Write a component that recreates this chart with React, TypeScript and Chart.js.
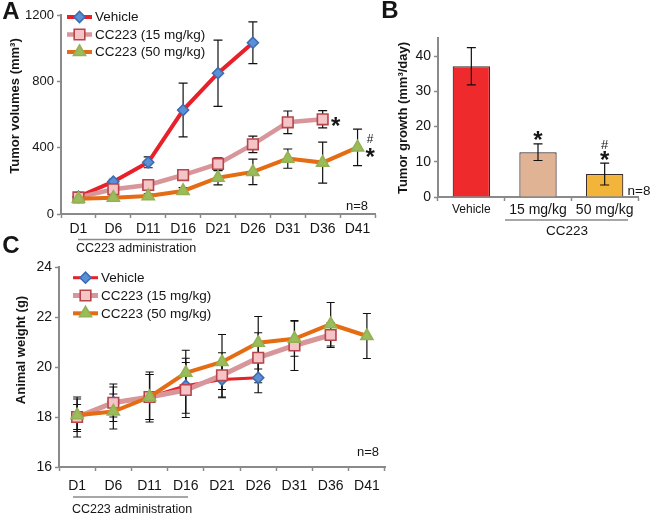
import React, { useEffect, useRef } from 'react';
import { Chart, registerables } from 'chart.js';
import { drawPoint } from 'chart.js/helpers';

Chart.register(...registerables);

const FONT = '"Liberation Sans", Arial, Helvetica, sans-serif';
const AXIS = '#8a8a8a';
const INK = '#151515';

// ---------- data ----------
const days = ['D1', 'D6', 'D11', 'D16', 'D21', 'D26', 'D31', 'D36', 'D41'];
const seriesNames = ['Vehicle', 'CC223 (15 mg/kg)', 'CC223 (50 mg/kg)'];

// Panel A: tumor volumes (mm3)
const volVehicle = [104, 195, 312, 627, 849, 1033, null, null, null];
const volVehicleErr = [10, 14, 33, 162, 200, 126, null, null, null];
const vol15 = [100, 149, 175, 235, 302, 420, 553, 571, null];
const vol15Err = [10, 14, 18, 20, 36, 50, 68, 52, null];
const vol50 = [92, 98, 108, 139, 219, 254, 334, 310, 402];
const vol50Err = [8, 10, 14, 20, 43, 77, 58, 124, 110];
const volTicks = [0, 400, 800, 1200];

// Panel B: tumor growth (mm3/day)
const growthLabels = ['Vehicle', '15 mg/kg', '50 mg/kg'];
const growth = [37.1, 12.7, 6.5];
const growthErr = [5.3, 2.35, 3.1];
const growthColors = ['#ee2a2d', '#dfb393', '#f3b43a'];

// Panel C: animal weight (g)
const wVehicle = [18.0, 18.6, 18.8, 19.25, 19.5, 19.57, null, null, null];
const wVehicleErr = [0.5, 0.6, 0.9, 1.1, 0.7, 0.6, null, null, null];
const w15 = [18.0, 18.57, 18.8, 19.08, 19.67, 20.37, 20.86, 21.28, null];
const w15Err = [0.8, 0.75, 1.0, 1.1, 0.9, 1.0, 1.0, 0.5, null];
const w50 = [18.07, 18.22, 18.8, 19.77, 20.2, 20.97, 21.13, 21.71, 21.24];
const w50Err = [0.65, 0.7, 0.9, 0.9, 1.1, 1.05, 0.7, 0.87, 0.9];

// ---------- styles ----------
const STY = {
  vehicle: { line: '#e8202a', fill: '#5b8fd6', border: '#3d6cb0', style: 'rectRot', r: 5.5 },
  d15: { line: '#d8969a', fill: '#f4c4c6', border: '#b8444c', style: 'rect', r: 7.5 },
  d50: { line: '#e46c14', fill: '#9cbb5a', border: '#92b253', style: 'triangle', r: 7 },
};

function lineDs(label: string, data: any[], errors: any[], s: any, width: number, order: number) {
  return {
    label,
    data,
    errors,
    order,
    borderColor: s.line,
    backgroundColor: s.line,
    borderWidth: width,
    pointStyle: s.style,
    pointRadius: s.r,
    pointBackgroundColor: s.fill,
    pointBorderColor: s.border,
    pointBorderWidth: 1.6,
    tension: 0,
    fill: false,
    spanGaps: false,
    clip: false,
  };
}

// ---------- plugins ----------
function drawErrors(chart: any, opts: any) {
  const ctx = chart.ctx;
  const ys = chart.scales.y;
  ctx.save();
  ctx.strokeStyle = opts.color || '#111';
  ctx.lineWidth = opts.width || 1.2;
  const half = opts.cap || 4;
  chart.data.datasets.forEach((ds: any, i: number) => {
    if (!ds.errors) return;
    const meta = chart.getDatasetMeta(i);
    ds.data.forEach((v: any, j: number) => {
      const e = ds.errors[j];
      if (v == null || e == null) return;
      const x = meta.data[j].x;
      const yt = ys.getPixelForValue(v + e);
      const yb = ys.getPixelForValue(v - e);
      ctx.beginPath();
      ctx.moveTo(x, yt);
      ctx.lineTo(x, yb);
      ctx.moveTo(x - half, yt);
      ctx.lineTo(x + half, yt);
      ctx.moveTo(x - half, yb);
      ctx.lineTo(x + half, yb);
      ctx.stroke();
    });
  });
  ctx.restore();
}

const errorBars = {
  id: 'errorBars',
  beforeDatasetsDraw(chart: any, _a: any, opts: any) {
    if (opts && opts.enabled && opts.behind) drawErrors(chart, opts);
  },
  afterDatasetsDraw(chart: any, _a: any, opts: any) {
    if (opts && opts.enabled && !opts.behind) drawErrors(chart, opts);
  },
};

function setFont(ctx: any, size: number, bold?: boolean) {
  ctx.font = `${bold ? 'bold ' : ''}${size}px ${FONT}`;
}

const decor = {
  id: 'decor',
  afterDraw(chart: any, _a: any, o: any) {
    if (!o) return;
    const ctx = chart.ctx;
    ctx.save();
    ctx.fillStyle = INK;
    ctx.textBaseline = 'middle';
    if (o.panel) {
      setFont(ctx, 24, true);
      ctx.textAlign = 'center';
      ctx.fillText(o.panel.text, o.panel.x, o.panel.y);
    }
    if (o.yTitle) {
      ctx.save();
      ctx.translate(o.yTitle.x, o.yTitle.y);
      ctx.rotate(-Math.PI / 2);
      setFont(ctx, o.yTitle.size || 13, true);
      ctx.textAlign = 'center';
      ctx.fillText(o.yTitle.text, 0, 0);
      ctx.restore();
    }
    (o.notes || []).forEach((n: any) => {
      setFont(ctx, n.size || 13, n.bold);
      ctx.textAlign = n.align || 'center';
      ctx.fillText(n.text, n.x, n.y);
    });
    (o.rules || []).forEach((r: any) => {
      ctx.strokeStyle = AXIS;
      ctx.lineWidth = 1.6;
      ctx.beginPath();
      ctx.moveTo(r.x1, r.y);
      ctx.lineTo(r.x2, r.y);
      ctx.stroke();
    });
    (o.marks || []).forEach((m: any) => {
      const meta = chart.getDatasetMeta(m.ds);
      const el = meta.data[m.idx];
      const v = chart.data.datasets[m.ds].data[m.idx];
      const x = el.x + (m.dx || 0);
      const y = chart.scales.y.getPixelForValue(v) + (m.dy || 0);
      setFont(ctx, m.size || 13, m.bold);
      ctx.textAlign = 'center';
      ctx.fillText(m.text, x, y);
    });
    if (o.legend) {
      const L = o.legend;
      chart.data.datasets.forEach((ds: any, i: number) => {
        const y = L.y + i * L.dy;
        ctx.strokeStyle = ds.borderColor;
        ctx.lineWidth = ds.borderWidth;
        ctx.beginPath();
        ctx.moveTo(L.x, y);
        ctx.lineTo(L.x + L.len, y);
        ctx.stroke();
        ctx.fillStyle = ds.pointBackgroundColor;
        ctx.strokeStyle = ds.pointBorderColor;
        ctx.lineWidth = ds.pointBorderWidth;
        drawPoint(ctx, { pointStyle: ds.pointStyle, radius: ds.pointRadius, rotation: 0, borderWidth: ds.pointBorderWidth } as any, L.x + L.len / 2, y);
        ctx.fillStyle = INK;
        setFont(ctx, L.size || 13.5);
        ctx.textAlign = 'left';
        ctx.fillText(ds.label, L.x + L.len + 3, y + 0.5);
      });
    }
    ctx.restore();
  },
};

function axisY(min: number, max: number, step: number, width: number, size: number, cb?: any) {
  return {
    min,
    max,
    border: { color: AXIS, width: 2 },
    grid: { drawOnChartArea: false, tickLength: 4, tickColor: AXIS, tickWidth: 1.5 },
    ticks: { stepSize: step, color: INK, font: { family: FONT, size }, padding: 3, callback: cb },
    afterFit: (s: any) => { s.width = width; },
  };
}

function axisX(height: number, padding: number, font: any) {
  return {
    type: 'category',
    offset: true,
    border: { color: AXIS, width: 2 },
    grid: { offset: true, drawOnChartArea: false, tickLength: 4, tickColor: AXIS, tickWidth: 1.5 },
    ticks: { color: INK, font, padding, maxRotation: 0, autoSkip: false },
    afterFit: (s: any) => { s.height = height; },
  };
}

function baseOpts() {
  return {
    responsive: false,
    animation: false,
    events: [],
    plugins: { legend: { display: false }, tooltip: { enabled: false } },
  } as any;
}

export default function App() {
  const aRef = useRef<HTMLCanvasElement>(null);
  const bRef = useRef<HTMLCanvasElement>(null);
  const cRef = useRef<HTMLCanvasElement>(null);

  useEffect(() => {
    const charts: Chart[] = [];

    // ----- Panel A -----
    const oA = baseOpts();
    oA.layout = { padding: { left: 0, top: 15, right: 10, bottom: 8 } };
    oA.scales = {
      x: axisX(40, 3, { family: FONT, size: 14 }),
      y: axisY(0, 1200, 400, 61, 13),
    };
    oA.scales.y.ticks.callback = (v: any) => (volTicks.includes(v) ? String(v) : '');
    oA.plugins.errorBars = { enabled: true, behind: true, cap: 4.5, width: 1.2 };
    oA.plugins.decor = {
      panel: { text: 'A', x: 11, y: 12 },
      yTitle: { text: 'Tumor volumes (mm³)', x: 15, y: 106, size: 13 },
      legend: { x: 67, y: 17, dy: 17.5, len: 25, size: 13.5 },
      notes: [
        { text: 'n=8', x: 357, y: 206, size: 13 },
        { text: 'CC223 administration', x: 136, y: 249, size: 12.5 },
      ],
      rules: [{ x1: 78, x2: 192, y: 239.5 }],
      marks: [
        { ds: 1, idx: 7, dx: 13, dy: 8, text: '*', size: 24, bold: true },
        { ds: 2, idx: 8, dx: 12.5, dy: -8, text: '#', size: 12 },
        { ds: 2, idx: 8, dx: 12.5, dy: 11, text: '*', size: 24, bold: true },
      ],
    };
    charts.push(new Chart(aRef.current as any, {
      type: 'line',
      data: {
        labels: days,
        datasets: [
          lineDs(seriesNames[0], volVehicle, volVehicleErr, STY.vehicle, 4, 3),
          lineDs(seriesNames[1], vol15, vol15Err, STY.d15, 4.5, 2),
          lineDs(seriesNames[2], vol50, vol50Err, STY.d50, 4, 1),
        ],
      },
      options: oA,
      plugins: [errorBars, decor],
    } as any));

    // ----- Panel B -----
    const oB = baseOpts();
    oB.layout = { padding: { left: 0, top: 38.4, right: 12, bottom: 35 } };
    oB.scales = {
      x: axisX(30, 1, (c: any) => ({ family: FONT, size: c.index === 0 ? 12 : 14 })),
      y: axisY(0, 45, 5, 58, 14, (v: any) => (v % 10 === 0 ? String(v) : '')),
    };
    oB.plugins.errorBars = { enabled: true, behind: false, cap: 4.5, width: 1.2 };
    oB.plugins.decor = {
      panel: { text: 'B', x: 10, y: 11 },
      yTitle: { text: 'Tumor growth (mm³/day)', x: 23, y: 118, size: 13 },
      notes: [
        { text: 'n=8', x: 259, y: 191, size: 13.5 },
        { text: 'CC223', x: 187, y: 231, size: 13.5 },
      ],
      rules: [{ x1: 125, x2: 248, y: 220 }],
      marks: [
        { ds: 0, idx: 1, dy: -11, text: '*', size: 24, bold: true },
        { ds: 0, idx: 2, dy: -29, text: '#', size: 13 },
        { ds: 0, idx: 2, dy: -13, text: '*', size: 24, bold: true },
      ],
    };
    charts.push(new Chart(bRef.current as any, {
      type: 'bar',
      data: {
        labels: growthLabels,
        datasets: [{
          label: 'Tumor growth',
          data: growth,
          errors: growthErr,
          backgroundColor: growthColors,
          borderColor: '#3b2b2b',
          borderWidth: 1.2,
          categoryPercentage: 1,
          barPercentage: 0.56,
        }],
      },
      options: oB,
      plugins: [errorBars, decor],
    } as any));

    // ----- Panel C -----
    const oC = baseOpts();
    oC.layout = { padding: { left: 0, top: 37, right: 15, bottom: 18 } };
    oC.scales = {
      x: axisX(30, 7, { family: FONT, size: 14 }),
      y: axisY(16, 24, 2, 59, 14),
    };
    oC.plugins.errorBars = { enabled: true, behind: true, cap: 4, width: 1.2 };
    oC.plugins.decor = {
      panel: { text: 'C', x: 11, y: 16 },
      yTitle: { text: 'Animal weight (g)', x: 21, y: 120, size: 13 },
      legend: { x: 73, y: 47.7, dy: 17.8, len: 25, size: 13.5 },
      notes: [
        { text: 'n=8', x: 368, y: 222, size: 13 },
        { text: 'CC223 administration', x: 132, y: 280, size: 12.5 },
      ],
      rules: [{ x1: 73, x2: 188, y: 267 }],
    };
    charts.push(new Chart(cRef.current as any, {
      type: 'line',
      data: {
        labels: days,
        datasets: [
          lineDs(seriesNames[0], wVehicle, wVehicleErr, STY.vehicle, 3, 3),
          lineDs(seriesNames[1], w15, w15Err, STY.d15, 5, 2),
          lineDs(seriesNames[2], w50, w50Err, STY.d50, 4, 1),
        ],
      },
      options: oC,
      plugins: [errorBars, decor],
    } as any));

    return () => { charts.forEach((c) => c.destroy()); };
  }, []);

  const abs = (l: number, t: number): React.CSSProperties => ({ position: 'absolute', left: l, top: t });
  return (
    <div style={{ position: 'fixed', left: 0, top: 0, width: 650, height: 515, background: '#fff', overflow: 'hidden' }}>
      <canvas ref={aRef} width={385} height={262} style={abs(0, 0)} />
      <canvas ref={cRef} width={400} height={285} style={abs(0, 230)} />
      <canvas ref={bRef} width={270} height={262} style={abs(380, 0)} />
    </div>
  );
}
